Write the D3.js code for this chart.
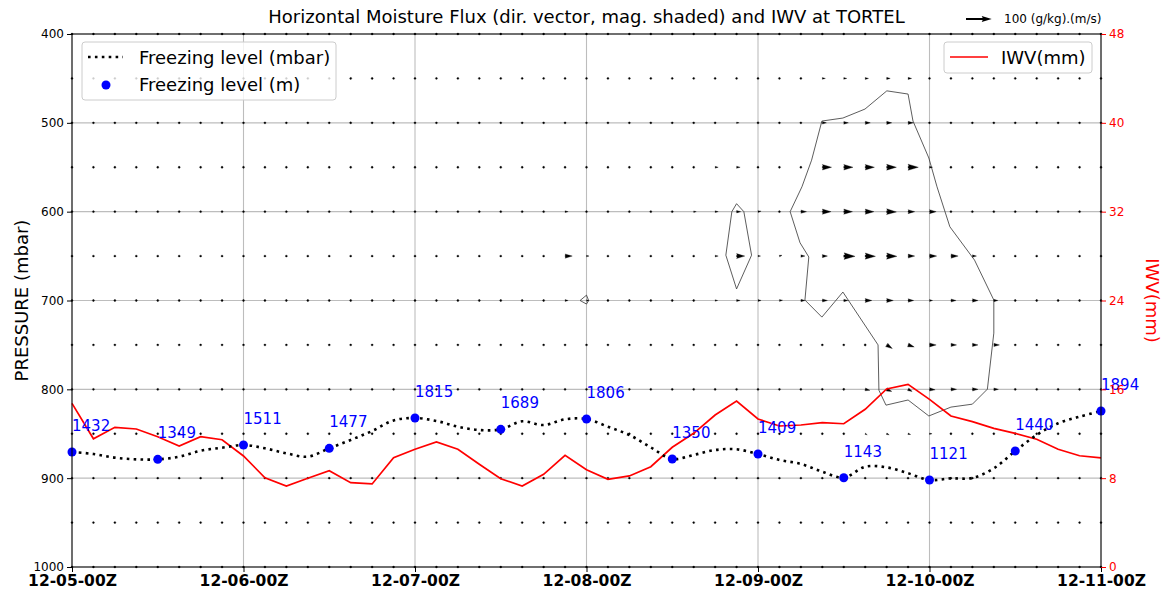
<!DOCTYPE html>
<html lang="en">
<head>
  <meta charset="UTF-8">
  <title>Horizontal Moisture Flux and IWV at TORTEL</title>
  <script src="https://d3js.org/d3.v7.min.js"></script>
  <style>
    body { margin: 0; background: #fff; }
    svg, svg text { font-family: 'DejaVu Sans', sans-serif; }
    svg { display: block; }
  </style>
</head>
<body>
  <div id="chart"></div>
  <script>
    // 3-hourly steps, 12-05-00Z .. 12-11-00Z (49 steps)
    const dayTicks = [0, 8, 16, 24, 32, 40, 48];
    const dayLabels = ["12-05-00Z", "12-06-00Z", "12-07-00Z", "12-08-00Z", "12-09-00Z", "12-10-00Z", "12-11-00Z"];
    const pressureTicks = [400, 500, 600, 700, 800, 900, 1000];
    const iwvTicks = [0, 8, 16, 24, 32, 40, 48];
    const fluxLevels = [400, 450, 500, 550, 600, 650, 700, 750, 800, 850, 900, 950, 1000];

    // freezing level (mbar), one per step
    const freezingMbar = [870.5, 872.8, 876.9, 878.8, 878.8, 875.8, 869.1, 865.7, 862.7, 866.4,
      872.0, 875.8, 866.4, 857.0, 846.9, 835.0, 832.3, 835.6, 842.1, 845.8,
      845.0, 836.0, 840.2, 833.7, 833.4, 842.1, 851.4, 865.3, 878.4, 873.9,
      868.3, 867.5, 872.8, 879.5, 884.0, 892.7, 899.5, 887.1, 887.8, 894.5,
      902.1, 900.2, 899.8, 888.9, 869.4, 851.4, 838.2, 830.8, 824.4];

    // freezing level (m), every 12 h
    const freezingSteps = [0, 4, 8, 12, 16, 20, 24, 28, 32, 36, 40, 44, 48];
    const freezingMeters = [1432, 1349, 1511, 1477, 1815, 1689, 1806, 1350, 1409, 1143, 1121, 1440, 1894];

    // integrated water vapour (mm), one per step
    const iwv = [14.74, 11.55, 12.58, 12.43, 11.73, 10.90, 11.73, 11.46, 10.00, 8.04,
      7.29, 7.99, 8.67, 7.59, 7.48, 9.84, 10.60, 11.26, 10.60, 9.25,
      7.95, 7.29, 8.35, 10.06, 8.76, 7.90, 8.20, 9.03, 10.78, 12.04,
      13.69, 14.95, 13.33, 12.70, 12.79, 13.00, 12.90, 14.20, 16.03, 16.45,
      15.10, 13.60, 13.09, 12.49, 12.04, 11.50, 10.60, 10.02, 9.82];

    // moisture flux vectors [step, level, u, v]; all other grid points are ~0
    const fluxArrows = [
      [13, 450, 2, -5], [14, 450, 2, -4], [34, 450, 8, 0], [35, 450, 12, 0], [36, 450, 12, 0], [37, 450, 13, 0], [38, 450, 14, 0], [39, 450, 14, 0],
      [13, 500, 2, -4], [31, 500, 10, 0], [32, 500, 8, 1], [35, 500, 16, 0], [36, 500, 18, 0], [37, 500, 20, 0], [38, 500, 20, 0], [39, 500, 20, 0],
      [28, 550, 5, 0], [29, 550, 7, 0], [30, 550, 12, 0], [31, 550, 14, 0], [32, 550, 8, 2], [35, 550, 36, 0], [36, 550, 36, 0], [37, 550, 36, 0], [38, 550, 38, 0], [39, 550, 40, 0], [40, 550, 12, 0],
      [23, 600, 12, 0], [28, 600, 6, 0], [29, 600, 10, 0], [30, 600, 12, 0], [31, 600, 16, 0], [32, 600, 12, 2], [33, 600, 8, 0], [34, 600, 22, 0], [35, 600, 34, 0], [36, 600, 34, 0], [37, 600, 34, 0], [38, 600, 38, -1], [39, 600, 26, 0], [40, 600, 26, 0], [41, 600, 6, 0],
      [23, 650, 28, 0], [24, 650, 10, 0], [29, 650, 6, 0], [30, 650, 12, 0], [31, 650, 32, 0], [32, 650, 10, 0], [33, 650, 10, 3], [34, 650, 16, 0], [35, 650, 20, 0], [36, 650, 44, -1], [37, 650, 40, -1], [38, 650, 40, -1], [39, 650, 26, 0], [40, 650, 28, 0], [41, 650, 28, 0], [42, 650, 16, 0],
      [23, 700, 12, 0], [24, 700, 10, 0], [25, 700, 6, 0], [29, 700, 6, 0], [30, 700, 10, 0], [31, 700, 14, 0], [32, 700, 12, 0], [33, 700, 12, 1], [34, 700, 16, 0], [35, 700, 20, 0], [36, 700, 16, 0], [37, 700, 26, 0], [38, 700, 26, 0], [39, 700, 22, 0], [40, 700, 12, 0], [41, 700, 20, 0], [42, 700, 22, 0], [43, 700, 16, 0],
      [37, 750, 6, -2], [38, 750, 22, -14], [39, 750, 24, -8], [40, 750, 26, 0], [41, 750, 22, 0], [42, 750, 22, 0], [43, 750, 22, 0],
      [7, 800, 2, -4], [36, 800, 8, -2], [37, 800, 18, -4], [38, 800, 20, -8], [39, 800, 16, -8], [40, 800, 22, -2], [41, 800, 22, 0], [42, 800, 22, 0], [43, 800, 18, 0], [44, 800, 8, 0],
      [37, 850, 8, -4], [38, 850, 10, -4], [39, 850, 10, -3], [40, 850, 10, 0], [41, 850, 8, 0]
    ];
    const keyMagnitude = 100;

    // flux magnitude contours, [step, pressure]
    const contourMain = [[34.98, 498], [35.96, 494.6], [36.99, 484.5], [38.01, 464], [39.0, 467.6], [39.23, 498],
      [39.97, 539.6], [40.35, 572], [40.95, 617], [42.1, 654.5], [43.0, 699.5], [43.0, 736.7], [42.7, 799.8],
      [42.0, 816.7], [41.0, 820], [39.97, 830], [39.0, 812], [37.97, 817.8], [37.64, 801], [37.6, 750],
      [35.96, 690.5], [34.98, 718.7], [34.19, 699.5], [34.37, 651], [33.96, 635], [33.5, 600], [34.05, 572], [34.5, 542]];
    const contourSmall = [[31.0, 591], [31.34, 600], [31.7, 649], [31.0, 687], [30.5, 649], [30.78, 600]];
    const contourTiny = [[23.7, 700], [24.0, 694], [24.1, 700], [24.0, 704]];

    const W = 1167, H = 595;
    const margin = { top: 34, right: 66, bottom: 28, left: 72 };
    const width = W - margin.left - margin.right;
    const height = H - margin.top - margin.bottom;

    const svgRoot = d3.select("#chart").append("svg")
      .attr("width", W).attr("height", H);
    const svg = svgRoot.append("g")
      .attr("transform", `translate(${margin.left},${margin.top})`);

    const x = d3.scaleLinear().domain([0, 48]).range([0, width]);
    const y = d3.scaleLinear().domain([400, 1000]).range([0, height]);
    const yR = d3.scaleLinear().domain([0, 48]).range([height, 0]);

    // grid
    svg.append("g").selectAll("line").data(dayTicks).join("line")
      .attr("x1", d => x(d)).attr("x2", d => x(d))
      .attr("y1", 0).attr("y2", height)
      .attr("stroke", "#bdbdbd").attr("stroke-width", 1.1);
    svg.append("g").selectAll("line").data(pressureTicks).join("line")
      .attr("x1", 0).attr("x2", width)
      .attr("y1", d => y(d)).attr("y2", d => y(d))
      .attr("stroke", "#bdbdbd").attr("stroke-width", 1.1);

    // contours
    const contourLine = d3.line().x(d => x(d[0])).y(d => y(d[1])).curve(d3.curveLinearClosed);
    [contourMain, contourSmall, contourTiny].forEach(c => {
      svg.append("path").attr("d", contourLine(c))
        .attr("fill", "none").attr("stroke", "#333").attr("stroke-width", 0.8);
    });

    // quiver (matplotlib-like arrow shape, in shaft-width units)
    const shaftW = 2.2;         // px
    const pxPerUnit = 25.7 / keyMagnitude;
    function arrowPath(lenPx, w) {
      const L = lenPx / w;
      let pts;
      if (L < 1) {
        const r = 0.5;
        pts = d3.range(6).map(i => [r * Math.cos(i * Math.PI / 3), r * Math.sin(i * Math.PI / 3)]);
      } else if (L < 5) {
        const s = L / 5;
        pts = [[0, 0.5], [0.5, 0.5], [0, 1.5], [5, 0], [0, -1.5], [0.5, -0.5], [0, -0.5]]
          .map(p => [p[0] * s, p[1] * s]);
      } else {
        pts = [[0, 0.5], [L - 4.5, 0.5], [L - 5, 1.5], [L, 0], [L - 5, -1.5], [L - 4.5, -0.5], [0, -0.5]];
      }
      return "M" + pts.map(p => [p[0] * w, p[1] * w].join(",")).join("L") + "Z";
    }

    const arrowMap = new Map(fluxArrows.map(a => [a[0] + "_" + a[1], a]));
    const quiver = [];
    fluxLevels.forEach(lev => {
      d3.range(49).forEach(s => {
        quiver.push(arrowMap.get(s + "_" + lev) || [s, lev, 3, 0]);
      });
    });
    svg.append("g").selectAll("path").data(quiver).join("path")
      .attr("d", d => arrowPath(Math.hypot(d[2], d[3]) * pxPerUnit, shaftW))
      .attr("transform", d => `translate(${x(d[0])},${y(d[1])}) rotate(${Math.atan2(-d[3], d[2]) * 180 / Math.PI})`)
      .attr("fill", "#000").attr("stroke", "#000").attr("stroke-width", 0.3);

    // IWV line
    svg.append("path")
      .attr("d", d3.line().x((d, i) => x(i)).y(d => yR(d))(iwv))
      .attr("fill", "none").attr("stroke", "#ff0000").attr("stroke-width", 1.7);

    // freezing level dotted line
    svg.append("path")
      .attr("d", d3.line().x((d, i) => x(i)).y(d => y(d)).curve(d3.curveCatmullRom)(freezingMbar))
      .attr("fill", "none").attr("stroke", "#000").attr("stroke-width", 2.6)
      .attr("stroke-dasharray", "2.6,4.3");

    // freezing level (m) points and labels
    svg.append("g").selectAll("circle").data(freezingSteps).join("circle")
      .attr("cx", d => x(d)).attr("cy", d => y(freezingMbar[d]))
      .attr("r", 4.5).attr("fill", "#0000ff");
    svg.append("g").selectAll("text").data(freezingSteps).join("text")
      .attr("x", d => x(d)).attr("y", d => y(freezingMbar[d]) - 21)
      .attr("fill", "#0000ff").style("font-size", "15px")
      .text((d, i) => freezingMeters[i]);

    // axes
    const yAxis = svg.append("g")
      .call(d3.axisLeft(y).tickValues(pressureTicks).tickFormat(d3.format("d")).tickSize(5).tickPadding(3).tickSizeOuter(0));
    yAxis.select(".domain").remove();
    yAxis.attr("font-family", null);
    yAxis.selectAll("text").style("font-size", "12px").attr("fill", "#000");

    const xAxis = svg.append("g").attr("transform", `translate(0,${height})`)
      .call(d3.axisBottom(x).tickValues(dayTicks).tickFormat((d, i) => dayLabels[i]).tickSize(5).tickPadding(3).tickSizeOuter(0));
    xAxis.select(".domain").remove();
    xAxis.attr("font-family", null);
    xAxis.selectAll("text").style("font-size", "15.5px").style("font-weight", "bold").attr("fill", "#000");

    const rAxis = svg.append("g").attr("transform", `translate(${width},0)`)
      .call(d3.axisRight(yR).tickValues(iwvTicks).tickSize(5).tickPadding(3).tickSizeOuter(0));
    rAxis.select(".domain").remove();
    rAxis.attr("font-family", null);
    rAxis.selectAll("line").attr("stroke", "#ff0000");
    rAxis.selectAll("text").style("font-size", "12px").attr("fill", "#ff0000");

    // frame
    svg.append("rect").attr("width", width).attr("height", height)
      .attr("fill", "none").attr("stroke", "#000").attr("stroke-width", 1);

    // labels
    svgRoot.append("text")
      .attr("x", margin.left + width / 2).attr("y", 23)
      .attr("text-anchor", "middle").style("font-size", "18px")
      .text("Horizontal Moisture Flux (dir. vector, mag. shaded) and IWV at TORTEL");
    svgRoot.append("text")
      .attr("transform", `translate(28,${margin.top + height / 2}) rotate(-90)`)
      .attr("text-anchor", "middle").style("font-size", "18px")
      .text("PRESSURE (mbar)");
    svgRoot.append("text")
      .attr("transform", `translate(1146,${margin.top + height / 2}) rotate(90)`)
      .attr("text-anchor", "middle").style("font-size", "18px").attr("fill", "#ff0000")
      .text("IWV(mm)");

    // quiver key
    svgRoot.append("path")
      .attr("d", arrowPath(keyMagnitude * pxPerUnit, 2))
      .attr("transform", "translate(966,19)").attr("fill", "#000");
    svgRoot.append("text").attr("x", 1004).attr("y", 23)
      .style("font-size", "12px").text(keyMagnitude + " (g/kg).(m/s)");

    // left legend
    const legL = svgRoot.append("g").attr("transform", "translate(82,42)");
    legL.append("rect").attr("width", 254).attr("height", 58).attr("rx", 3)
      .attr("fill", "#fff").attr("fill-opacity", 0.8).attr("stroke", "#ccc");
    legL.append("line").attr("x1", 6).attr("x2", 41).attr("y1", 15).attr("y2", 15)
      .attr("stroke", "#000").attr("stroke-width", 2.6).attr("stroke-dasharray", "2.6,4.3");
    legL.append("text").attr("x", 57).attr("y", 22).style("font-size", "18px").text("Freezing level (mbar)");
    legL.append("circle").attr("cx", 24).attr("cy", 43).attr("r", 4.5).attr("fill", "#0000ff");
    legL.append("text").attr("x", 57).attr("y", 49).style("font-size", "18px").text("Freezing level (m)");

    // right legend
    const legR = svgRoot.append("g").attr("transform", "translate(944,42)");
    legR.append("rect").attr("width", 148).attr("height", 31).attr("rx", 3)
      .attr("fill", "#fff").attr("fill-opacity", 0.8).attr("stroke", "#ccc");
    legR.append("line").attr("x1", 6).attr("x2", 44).attr("y1", 15).attr("y2", 15)
      .attr("stroke", "#ff0000").attr("stroke-width", 1.7);
    legR.append("text").attr("x", 57).attr("y", 22).style("font-size", "18px").text("IWV(mm)");
  </script>
</body>
</html>
